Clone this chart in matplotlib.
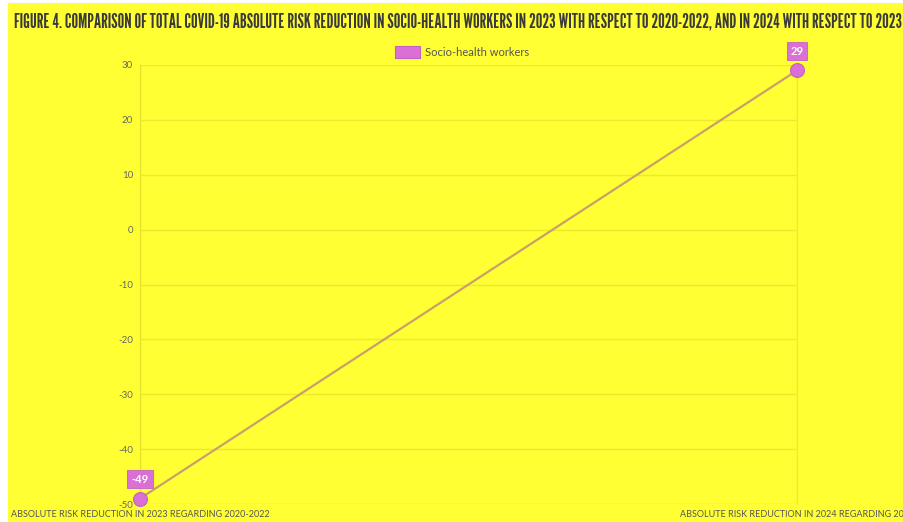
import matplotlib
matplotlib.use("Agg")
import matplotlib.pyplot as plt
from matplotlib.patches import Rectangle

# data
categories = ["ABSOLUTE RISK REDUCTION IN 2023 REGARDING 2020-2022",
              "ABSOLUTE RISK REDUCTION IN 2024 REGARDING 2023"]
values = [-49, 29]
series_name = "Socio-health workers"
title = ("FIGURE 4. COMPARISON OF TOTAL COVID-19 ABSOLUTE RISK REDUCTION IN SOCIO-HEALTH "
         "WORKERS IN 2023 WITH RESPECT TO 2020-2022, AND IN 2024 WITH RESPECT TO 2023")
yticks = [-50, -40, -30, -20, -10, 0, 10, 20, 30]

W, H = 904, 522
bg = "#FFFF33"
grid_col = "#EAEA2E"
line_col = "#C9A06C"
point_col = "#DA70D6"
body_font = ["Lato", "DejaVu Sans"]

fig = plt.figure(figsize=(W / 100, H / 100), dpi=100)
fig.patch.set_facecolor("white")
fig.add_artist(Rectangle((8 / W, 0), 1, 1 - 3 / H, transform=fig.transFigure,
                         facecolor=bg, edgecolor="none", zorder=-10))

ax = fig.add_axes([140 / W, 1 - 504 / H, (797 - 140) / W, (504 - 65) / H])
ax.set_facecolor(bg)
x = list(range(len(values)))
ax.plot(x, values, color=line_col, lw=1.6, zorder=3, clip_on=False)
ax.scatter(x, values, s=100, color=point_col, edgecolor="#C860C4", lw=0.8,
           zorder=4, clip_on=False)

for xi, v in zip(x, values):
    ax.annotate(str(v), (xi, v), xytext=(0, 14), textcoords="offset points",
                ha="center", va="center", color="white", fontsize=8,
                fontweight="bold", family=body_font, zorder=5, annotation_clip=False,
                bbox=dict(boxstyle="square,pad=0.35", fc=point_col, ec="#C860C4", lw=0.6))

ax.set_xlim(0, 1)
ax.set_ylim(-50, 30)
ax.set_yticks(yticks)
ax.set_yticklabels([str(t) for t in yticks], fontsize=7, color="#666666", family=body_font)
ax.set_xticks(x)
ax.set_xticklabels(categories, fontsize=6.5, color="#555555", family=body_font)
ax.tick_params(axis="both", length=0, pad=5)
ax.tick_params(axis="x", pad=4)
ax.grid(True, color=grid_col, lw=1)
for s in ["top", "bottom"]:
    ax.spines[s].set_visible(False)
ax.spines["left"].set_color("#E2E22C")
ax.spines["right"].set_color(grid_col)

# legend
fig.add_artist(Rectangle((395 / W, 1 - 58 / H), 25 / W, 12 / H, transform=fig.transFigure,
                         facecolor=point_col, edgecolor="#C860C4", lw=0.8))
fig.text(425 / W, 1 - 52 / H, series_name, fontsize=8, color="#555555",
         va="center", ha="left", family=body_font)

fig.text(14 / W, 1 - 22 / H, title, fontsize=13.5, fontweight="bold", color="#3a3a3a",
         ha="left", va="center",
         family=["League Gothic", "Asap Condensed", "DejaVu Sans"])

fig.savefig("out.png", dpi=100, facecolor=fig.get_facecolor())
